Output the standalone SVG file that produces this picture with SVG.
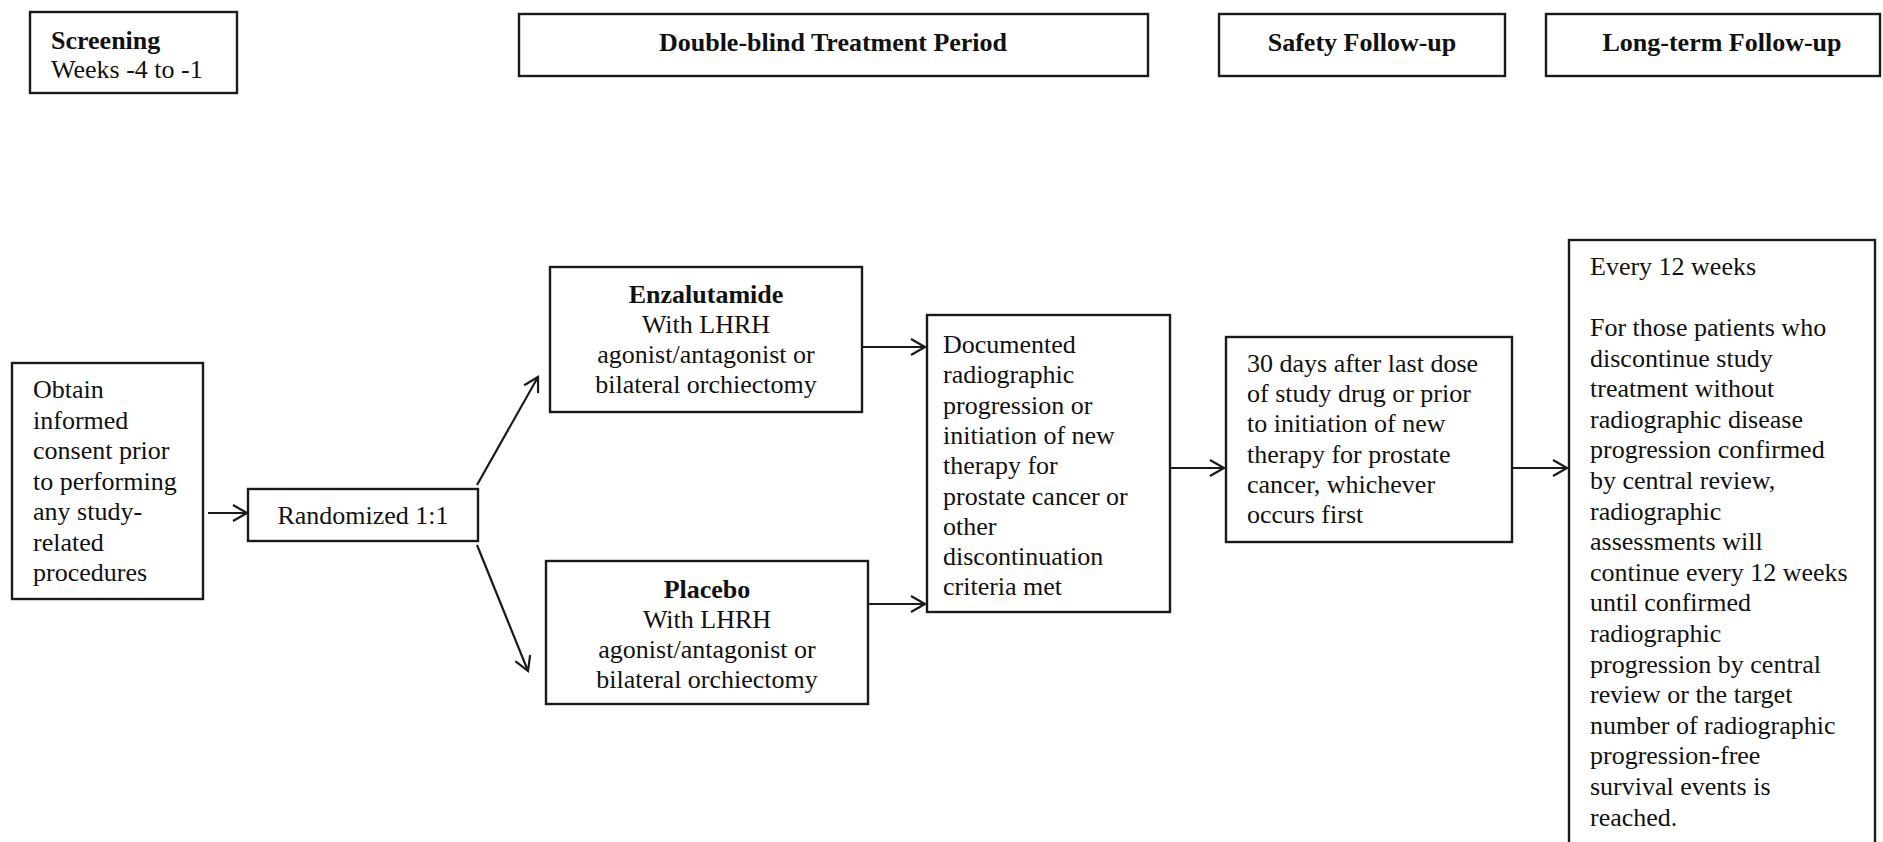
<svg xmlns="http://www.w3.org/2000/svg" width="1883" height="842" viewBox="0 0 1883 842">
<style>
.box{fill:#fff;stroke:#1a1a1a;stroke-width:2.4}
.t{font-family:"Liberation Serif","Times New Roman",serif;font-size:26px;fill:#111}
.b{font-weight:bold}
.c{text-anchor:middle}
.conn{stroke:#1a1a1a;stroke-width:2.2;fill:none}
</style>
<defs>
<marker id="arr" markerUnits="userSpaceOnUse" markerWidth="18" markerHeight="20" refX="15" refY="9" orient="auto" overflow="visible">
<path d="M1,1 L15,9 L1,17" fill="none" stroke="#1a1a1a" stroke-width="2.2"/>
</marker>
</defs>
<rect width="1883" height="842" fill="#fff"/>

<g id="screening">
<rect class="box" x="30" y="12" width="207" height="81"/>
<text class="t b" x="51" y="49">Screening</text>
<text class="t" x="51" y="78">Weeks -4 to -1</text>
</g>
<g id="double-blind">
<rect class="box" x="519" y="14" width="629" height="62"/>
<text class="t b c" x="833" y="51">Double-blind Treatment Period</text>
</g>
<g id="safety">
<rect class="box" x="1219" y="14" width="286" height="62"/>
<text class="t b c" x="1362" y="51">Safety Follow-up</text>
</g>
<g id="longterm">
<rect class="box" x="1546" y="14" width="334" height="62"/>
<text class="t b c" x="1722" y="51">Long-term Follow-up</text>
</g>

<g id="consent">
<rect class="box" x="12" y="363" width="191" height="236"/>
<text class="t" x="33" y="398">Obtain</text>
<text class="t" x="33" y="428.5">informed</text>
<text class="t" x="33" y="459">consent prior</text>
<text class="t" x="33" y="489.5">to performing</text>
<text class="t" x="33" y="520">any study-</text>
<text class="t" x="33" y="550.5">related</text>
<text class="t" x="33" y="581">procedures</text>
</g>
<g id="randomized">
<rect class="box" x="248" y="489" width="230" height="52"/>
<text class="t c" x="363" y="524">Randomized 1:1</text>
</g>
<g id="enzalutamide">
<rect class="box" x="550" y="267" width="312" height="145"/>
<text class="t b c" x="706" y="303">Enzalutamide</text>
<text class="t c" x="706" y="333">With LHRH</text>
<text class="t c" x="706" y="363">agonist/antagonist or</text>
<text class="t c" x="706" y="393">bilateral orchiectomy</text>
</g>
<g id="placebo">
<rect class="box" x="546" y="561" width="322" height="143"/>
<text class="t b c" x="707" y="598">Placebo</text>
<text class="t c" x="707" y="628">With LHRH</text>
<text class="t c" x="707" y="658">agonist/antagonist or</text>
<text class="t c" x="707" y="688">bilateral orchiectomy</text>
</g>
<g id="documented">
<rect class="box" x="927" y="315" width="243" height="297"/>
<text class="t" x="943" y="353">Documented</text>
<text class="t" x="943" y="383.3">radiographic</text>
<text class="t" x="943" y="413.6">progression or</text>
<text class="t" x="943" y="443.9">initiation of new</text>
<text class="t" x="943" y="474.2">therapy for</text>
<text class="t" x="943" y="504.5">prostate cancer or</text>
<text class="t" x="943" y="534.8">other</text>
<text class="t" x="943" y="565.1">discontinuation</text>
<text class="t" x="943" y="595.4">criteria met</text>
</g>
<g id="safety-detail">
<rect class="box" x="1226" y="337" width="286" height="205"/>
<text class="t" x="1247" y="372">30 days after last dose</text>
<text class="t" x="1247" y="402.2">of study drug or prior</text>
<text class="t" x="1247" y="432.4">to initiation of new</text>
<text class="t" x="1247" y="462.6">therapy for prostate</text>
<text class="t" x="1247" y="492.8">cancer, whichever</text>
<text class="t" x="1247" y="523">occurs first</text>
</g>
<g id="longterm-detail">
<rect class="box" x="1569" y="240" width="306" height="640"/>
<text class="t" x="1590" y="275">Every 12 weeks</text>
<text class="t" x="1590" y="336">For those patients who</text>
<text class="t" x="1590" y="366.6">discontinue study</text>
<text class="t" x="1590" y="397.2">treatment without</text>
<text class="t" x="1590" y="427.8">radiographic disease</text>
<text class="t" x="1590" y="458.4">progression confirmed</text>
<text class="t" x="1590" y="489">by central review,</text>
<text class="t" x="1590" y="519.6">radiographic</text>
<text class="t" x="1590" y="550.2">assessments will</text>
<text class="t" x="1590" y="580.8">continue every 12 weeks</text>
<text class="t" x="1590" y="611.4">until confirmed</text>
<text class="t" x="1590" y="642">radiographic</text>
<text class="t" x="1590" y="672.6">progression by central</text>
<text class="t" x="1590" y="703.2">review or the target</text>
<text class="t" x="1590" y="733.8">number of radiographic</text>
<text class="t" x="1590" y="764.4">progression-free</text>
<text class="t" x="1590" y="795">survival events is</text>
<text class="t" x="1590" y="825.6">reached.</text>
</g>

<g id="connectors">
<line class="conn" x1="208" y1="513" x2="247" y2="513" marker-end="url(#arr)"/>
<line class="conn" x1="477" y1="485" x2="538" y2="377" marker-end="url(#arr)"/>
<line class="conn" x1="477" y1="545" x2="528" y2="671" marker-end="url(#arr)"/>
<line class="conn" x1="863" y1="347" x2="925" y2="347" marker-end="url(#arr)"/>
<line class="conn" x1="869" y1="604" x2="925" y2="604" marker-end="url(#arr)"/>
<line class="conn" x1="1171" y1="468" x2="1224" y2="468" marker-end="url(#arr)"/>
<line class="conn" x1="1513" y1="468" x2="1567" y2="468" marker-end="url(#arr)"/>
</g>
</svg>
